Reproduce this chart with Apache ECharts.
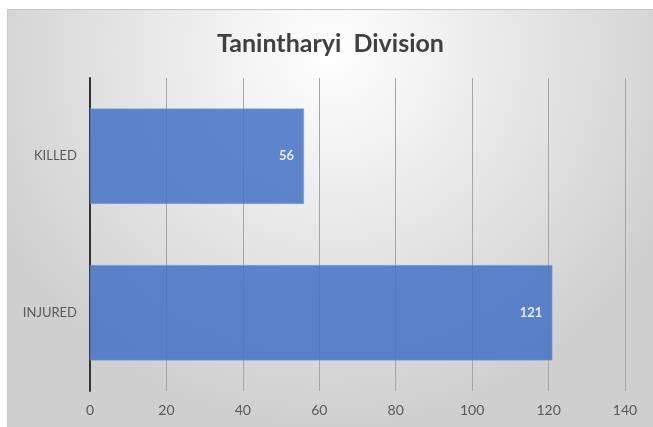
<!DOCTYPE html>
<html>
<head>
<meta charset="utf-8">
<script src="https://cdn.jsdelivr.net/npm/echarts@6/dist/echarts.min.js"></script>
<style>
  html, body { margin: 0; padding: 0; background: #fff; }
  #chart { position: absolute; left: 7px; top: 9px; width: 645px; height: 417px;
           border-top: 1px solid #c8c8c8; border-left: 1px solid #c8c8c8; }
</style>
</head>
<body>
<div id="chart"></div>
<script>
var categories = ['INJURED', 'KILLED'];
var values = [121, 56];
var xTicks = [0, 20, 40, 60, 80, 100, 120, 140];

var myChart = echarts.init(document.getElementById('chart'));
var option = {
    backgroundColor: {
        type: 'radial', x: 0.5, y: 0.1, r: 0.9,
        colorStops: [
            { offset: 0, color: '#ffffff' },
            { offset: 1, color: '#cfcfcf' }
        ]
    },
    animation: false,
    title: {
        text: 'Tanintharyi  Division',
        left: 'center',
        top: 16,
        textStyle: { fontFamily: 'Lato', fontWeight: 'bold', fontSize: 25, color: '#404040' }
    },
    grid: { left: 82, right: 28, top: 68, bottom: 36 },
    xAxis: {
        type: 'value',
        min: xTicks[0],
        max: xTicks[xTicks.length - 1],
        interval: 20,
        axisLine: { show: false },
        axisTick: { show: false },
        axisLabel: { color: '#595959', fontFamily: 'Lato', fontSize: 14, margin: 12 },
        splitLine: { lineStyle: { color: '#a6a6a6', width: 1 } }
    },
    yAxis: {
        type: 'category',
        data: categories,
        axisLine: { lineStyle: { color: '#333333', width: 2 } },
        axisTick: { show: false },
        axisLabel: { color: '#595959', fontFamily: 'Lato', fontSize: 13, margin: 13 }
    },
    series: [{
        type: 'bar',
        data: values,
        barCategoryGap: '39%',
        itemStyle: { color: '#4472C4', opacity: 0.85, borderColor: '#8aa8dc', borderWidth: 0.5 },
        label: {
            show: true,
            position: 'insideRight',
            distance: 10,
            color: '#ffffff',
            fontFamily: 'Lato',
            fontWeight: 'bold',
            fontSize: 13
        }
    }]
};
myChart.setOption(option);
</script>
</body>
</html>
